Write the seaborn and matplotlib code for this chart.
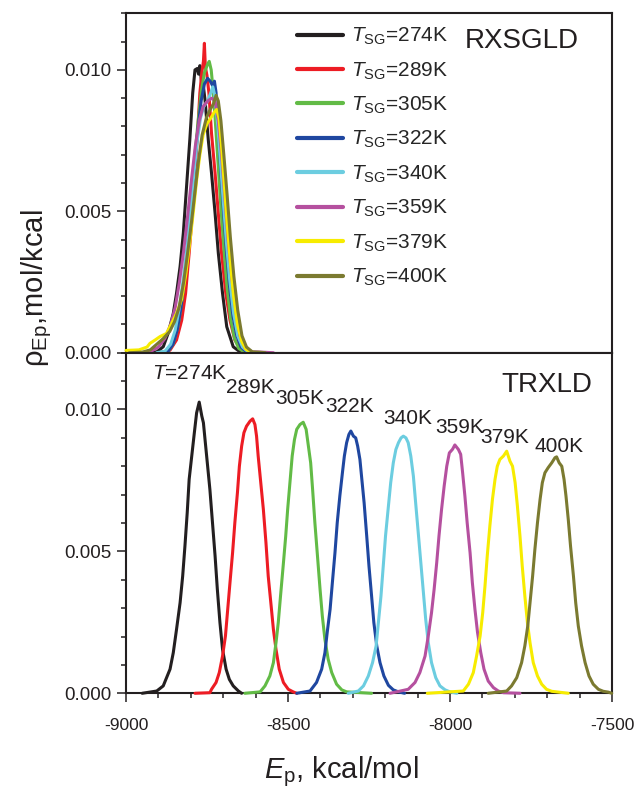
import matplotlib
matplotlib.use("Agg")
import matplotlib.pyplot as plt
import numpy as np
import pandas as pd
import seaborn as sns
from matplotlib import font_manager
from matplotlib.ticker import MultipleLocator, FormatStrFormatter
from matplotlib.lines import Line2D

# ---------------- data ----------------
temps = [274, 289, 305, 322, 340, 359, 379, 400]
colors = ["#231f20", "#ed1c24", "#62bb46", "#1f47a0", "#6ccde0", "#b5509f", "#f7ec00", "#7b7a30"]
x_ticks = [-9000, -8500, -8000, -7500]
y_ticks = [0.000, 0.005, 0.010]

# RXSGLD (top panel): E_p in kcal/mol, density in 1e-3 mol/kcal
rx_274_E = [-8950, -8905, -8885, -8870, -8854, -8844, -8833, -8823, -8813, -8803, -8794, -8787, -8780, -8776, -8772, -8767, -8762, -8756, -8746, -8736, -8725, -8715, -8702, -8689, -8669, -8648]
rx_274_rho = [0, 0.03, 0.21, 0.68, 1.39, 2.10, 3.05, 4.23, 5.88, 7.53, 9.18, 10.0, 10.05, 9.85, 10.15, 9.6, 9.5, 8.94, 7.53, 6.35, 4.93, 3.52, 2.10, 0.92, 0.21, 0.03]
rx_289_E = [-8880, -8864, -8844, -8828, -8816, -8805, -8795, -8787, -8779, -8772, -8766, -8761, -8758, -8755, -8750, -8744, -8736, -8725, -8715, -8705, -8692, -8679, -8664, -8643, -8628]
rx_289_rho = [0, 0.09, 0.45, 1.15, 2.10, 3.52, 4.93, 6.35, 7.76, 9.18, 9.9, 10.3, 10.94, 10.1, 9.8, 9.18, 7.76, 6.35, 4.93, 3.52, 2.10, 1.15, 0.45, 0.09, 0]
rx_305_E = [-8900, -8870, -8855, -8840, -8828, -8815, -8805, -8797, -8788, -8778, -8768, -8758, -8748, -8743, -8737, -8732, -8725, -8717, -8708, -8698, -8688, -8677, -8665, -8652, -8635, -8620]
rx_305_rho = [0, 0.05, 0.3, 0.9, 1.8, 3.0, 4.3, 5.5, 6.9, 8.1, 9.2, 9.9, 10.2, 10.3, 10.0, 9.4, 8.3, 6.9, 5.3, 3.7, 2.3, 1.2, 0.5, 0.15, 0.03, 0]
rx_322_E = [-8900, -8870, -8855, -8842, -8830, -8818, -8807, -8798, -8788, -8778, -8768, -8758, -8748, -8740, -8733, -8727, -8722, -8716, -8708, -8699, -8690, -8680, -8670, -8658, -8645, -8630, -8615]
rx_322_rho = [0, 0.05, 0.3, 0.8, 1.6, 2.8, 4.1, 5.3, 6.7, 7.9, 8.9, 9.5, 9.7, 9.6, 9.45, 9.6, 9.2, 8.0, 6.5, 5.0, 3.6, 2.3, 1.3, 0.6, 0.2, 0.05, 0]
rx_340_E = [-8905, -8880, -8862, -8848, -8835, -8822, -8810, -8800, -8790, -8780, -8770, -8760, -8748, -8738, -8732, -8726, -8718, -8710, -8700, -8690, -8680, -8668, -8655, -8640, -8625, -8610]
rx_340_rho = [0, 0.05, 0.3, 0.8, 1.6, 2.7, 3.9, 5.1, 6.4, 7.5, 8.3, 8.7, 8.9, 9.2, 9.4, 9.1, 8.2, 7.0, 5.4, 3.9, 2.6, 1.4, 0.6, 0.2, 0.05, 0]
rx_359_E = [-8930, -8900, -8880, -8862, -8848, -8835, -8822, -8810, -8798, -8786, -8774, -8762, -8748, -8735, -8725, -8715, -8705, -8695, -8685, -8673, -8660, -8648, -8632, -8610, -8580, -8545]
rx_359_rho = [0, 0.2, 0.5, 1.0, 1.6, 2.5, 3.6, 4.8, 6.1, 7.3, 8.2, 8.7, 8.9, 9.0, 8.9, 8.2, 7.0, 5.5, 4.0, 2.6, 1.4, 0.6, 0.15, 0.03, 0.02, 0]
rx_379_E = [-9000, -8960, -8935, -8926, -8910, -8895, -8875, -8859, -8844, -8828, -8815, -8803, -8792, -8782, -8772, -8762, -8750, -8738, -8728, -8720, -8713, -8705, -8697, -8688, -8678, -8668, -8656, -8643, -8630, -8615, -8600]
rx_379_rho = [0.08, 0.1, 0.2, 0.33, 0.45, 0.57, 0.68, 1.04, 1.39, 1.9, 2.8, 3.9, 5.0, 6.1, 7.0, 7.7, 8.1, 8.3, 8.5, 8.6, 8.3, 7.3, 6.0, 4.6, 3.2, 2.0, 1.0, 0.4, 0.12, 0.03, 0]
rx_400_E = [-8990, -8950, -8925, -8905, -8885, -8865, -8850, -8836, -8822, -8810, -8798, -8787, -8776, -8765, -8752, -8740, -8730, -8722, -8715, -8707, -8698, -8688, -8678, -8667, -8655, -8642, -8628, -8610, -8590, -8570]
rx_400_rho = [0, 0.02, 0.1, 0.3, 0.5, 0.75, 1.1, 1.6, 2.5, 3.5, 4.6, 5.7, 6.8, 7.7, 8.3, 8.6, 8.8, 9.1, 8.9, 8.2, 7.0, 5.6, 4.1, 2.7, 1.5, 0.6, 0.2, 0.03, 0.02, 0]

# TRXLD (bottom panel)
tr_274_E = [-8950, -8905, -8885, -8864, -8854, -8844, -8833, -8825, -8818, -8811, -8805, -8797, -8789, -8782, -8774, -8766, -8761, -8756, -8749, -8741, -8733, -8725, -8718, -8710, -8702, -8691, -8681, -8669, -8653, -8643]
tr_274_rho = [0, 0.08, 0.26, 0.85, 1.43, 2.25, 3.19, 4.13, 5.19, 6.36, 7.54, 8.36, 9.18, 9.88, 10.26, 9.77, 9.53, 8.94, 8.12, 7.18, 6.01, 4.84, 3.66, 2.49, 1.55, 0.85, 0.49, 0.26, 0.08, 0.0]
tr_289_E = [-8787, -8741, -8736, -8722, -8712, -8702, -8693, -8686, -8679, -8671, -8664, -8656, -8650, -8643, -8636, -8628, -8617, -8609, -8602, -8597, -8592, -8584, -8576, -8568, -8561, -8552, -8545, -8537, -8527, -8514, -8499, -8484, -8473]
tr_289_rho = [0, 0.02, 0.14, 0.38, 0.73, 1.31, 2.02, 2.96, 3.90, 4.95, 6.01, 7.07, 8.00, 8.71, 9.18, 9.41, 9.59, 9.67, 9.47, 9.06, 8.36, 7.42, 6.48, 5.31, 4.13, 3.08, 2.25, 1.55, 0.85, 0.38, 0.14, 0.05, 0.0]
tr_305_E = [-8633, -8586, -8571, -8556, -8545, -8537, -8530, -8523, -8514, -8507, -8501, -8494, -8487, -8480, -8473, -8463, -8453, -8444, -8437, -8430, -8424, -8417, -8409, -8401, -8394, -8386, -8376, -8365, -8350, -8334, -8319, -8242]
tr_305_rho = [0, 0.05, 0.26, 0.61, 1.08, 1.78, 2.49, 3.43, 4.60, 5.54, 6.48, 7.42, 8.36, 8.94, 9.30, 9.47, 9.55, 9.30, 8.71, 8.12, 7.18, 6.01, 4.84, 3.66, 2.72, 1.90, 1.20, 0.73, 0.32, 0.12, 0.05, 0.0]
tr_322_E = [-8473, -8432, -8412, -8396, -8386, -8379, -8370, -8363, -8355, -8348, -8340, -8332, -8326, -8319, -8312, -8306, -8298, -8291, -8285, -8278, -8273, -8265, -8257, -8250, -8242, -8235, -8226, -8216, -8204, -8190, -8175, -8159, -8140]
tr_322_rho = [0, 0.08, 0.38, 0.85, 1.43, 2.14, 2.96, 3.90, 4.95, 6.01, 6.95, 7.77, 8.36, 8.83, 9.12, 9.24, 9.06, 9.00, 8.71, 8.24, 7.65, 6.71, 5.54, 4.48, 3.43, 2.49, 1.67, 1.08, 0.61, 0.28, 0.12, 0.05, 0]
tr_340_E = [-8314, -8283, -8267, -8252, -8239, -8228, -8221, -8213, -8206, -8199, -8190, -8183, -8175, -8167, -8159, -8151, -8144, -8136, -8129, -8121, -8113, -8106, -8098, -8090, -8082, -8075, -8067, -8057, -8044, -8031, -8015, -8000, -7979]
tr_340_rho = [0, 0.08, 0.26, 0.61, 1.08, 1.67, 2.49, 3.43, 4.48, 5.54, 6.60, 7.42, 8.12, 8.59, 8.83, 9.00, 9.06, 9.00, 8.83, 8.36, 7.65, 6.71, 5.66, 4.60, 3.54, 2.61, 1.78, 1.08, 0.55, 0.26, 0.12, 0.05, 0]
tr_359_E = [-8185, -8129, -8108, -8093, -8077, -8067, -8057, -8049, -8041, -8034, -8026, -8018, -8010, -8002, -7992, -7985, -7974, -7967, -7961, -7954, -7947, -7938, -7931, -7923, -7915, -7905, -7895, -7882, -7866, -7851, -7835, -7784]
tr_359_rho = [0, 0.14, 0.38, 0.73, 1.31, 2.02, 2.84, 3.66, 4.60, 5.54, 6.48, 7.30, 8.00, 8.47, 8.60, 8.75, 8.59, 8.42, 7.77, 6.95, 6.01, 4.95, 3.90, 2.96, 2.14, 1.43, 0.85, 0.43, 0.20, 0.08, 0.02, 0]
tr_379_E = [-8070, -7959, -7943, -7928, -7918, -7907, -7899, -7892, -7885, -7877, -7869, -7861, -7854, -7846, -7835, -7825, -7815, -7807, -7799, -7792, -7784, -7777, -7769, -7761, -7753, -7743, -7730, -7717, -7702, -7686, -7671, -7635]
tr_379_rho = [0, 0.08, 0.32, 0.73, 1.31, 2.02, 2.84, 3.78, 4.84, 5.89, 6.83, 7.54, 8.00, 8.24, 8.36, 8.53, 8.18, 8.00, 7.42, 6.60, 5.54, 4.48, 3.43, 2.49, 1.78, 1.08, 0.61, 0.32, 0.14, 0.07, 0.05, 0]
tr_400_E = [-7882, -7825, -7810, -7794, -7779, -7769, -7760, -7753, -7745, -7738, -7730, -7722, -7715, -7707, -7697, -7686, -7676, -7671, -7663, -7655, -7648, -7642, -7635, -7628, -7619, -7612, -7604, -7594, -7583, -7571, -7558, -7542, -7527, -7511, -7501]
tr_400_rho = [0, 0.08, 0.26, 0.55, 1.08, 1.67, 2.37, 3.19, 4.13, 5.07, 6.01, 6.83, 7.42, 7.77, 7.95, 8.12, 8.30, 8.33, 8.12, 8.00, 7.54, 6.95, 6.13, 5.19, 4.13, 3.19, 2.37, 1.67, 1.08, 0.61, 0.32, 0.14, 0.07, 0.04, 0]

# peak labels of the lower panel: text, anchor energy, anchor density
peak_labels = ["$T$=274K", "289K", "305K", "322K", "340K", "359K", "379K", "400K"]
peak_label_E = [-8803, -8617, -8464, -8311, -8131, -7971, -7830, -7663]
peak_label_rho = [0.01128, 0.01079, 0.01039, 0.01009, 0.00969, 0.00937, 0.00903, 0.00870]

# ---------------- build tables ----------------
rx_curves = [(rx_274_E, rx_274_rho), (rx_289_E, rx_289_rho), (rx_305_E, rx_305_rho), (rx_322_E, rx_322_rho),
             (rx_340_E, rx_340_rho), (rx_359_E, rx_359_rho), (rx_379_E, rx_379_rho), (rx_400_E, rx_400_rho)]
tr_curves = [(tr_274_E, tr_274_rho), (tr_289_E, tr_289_rho), (tr_305_E, tr_305_rho), (tr_322_E, tr_322_rho),
             (tr_340_E, tr_340_rho), (tr_359_E, tr_359_rho), (tr_379_E, tr_379_rho), (tr_400_E, tr_400_rho)]


def to_frame(curves):
    parts = []
    for t, (e, r) in zip(temps, curves):
        parts.append(pd.DataFrame({"E": e, "rho": np.asarray(r) * 1e-3, "T": t}))
    return pd.concat(parts, ignore_index=True)


df_rx = to_frame(rx_curves)
df_tr = to_frame(tr_curves)
palette = dict(zip(temps, colors))

# ---------------- style ----------------
sns.set_style("ticks")
names = {f.name for f in font_manager.fontManager.ttflist}
narrow = "Liberation Sans Narrow" if "Liberation Sans Narrow" in names else "Liberation Sans"
plt.rcParams["font.family"] = ["Liberation Sans", "DejaVu Sans"]
plt.rcParams["mathtext.fontset"] = "custom"
plt.rcParams["mathtext.rm"] = "Liberation Sans"
plt.rcParams["mathtext.it"] = "Liberation Sans:italic"
plt.rcParams["mathtext.bf"] = "Liberation Sans:bold"
plt.rcParams["axes.unicode_minus"] = False
plt.rcParams["axes.linewidth"] = 1.5
plt.rcParams["axes.edgecolor"] = "#231f20"

fig = plt.figure(figsize=(6.34, 7.88), dpi=100)
ax_top = fig.add_axes([0.1987, 0.5524, 0.7666, 0.4307])
ax_bot = fig.add_axes([0.1987, 0.1202, 0.7666, 0.4322])

for ax, df in ((ax_top, df_rx), (ax_bot, df_tr)):
    sns.lineplot(data=df, x="E", y="rho", hue="T", hue_order=temps, palette=palette,
                 estimator=None, sort=False, legend=False, linewidth=2.2, ax=ax,
                 clip_on=False, zorder=3)
    ax.set_xlim(-9000, -7500)
    ax.set_ylim(0, 0.012)
    ax.set_xticks(x_ticks)
    ax.set_yticks(y_ticks)
    ax.xaxis.set_minor_locator(MultipleLocator(100))
    ax.yaxis.set_minor_locator(MultipleLocator(0.001))
    ax.yaxis.set_major_formatter(FormatStrFormatter("%.3f"))
    ax.tick_params(which="major", direction="out", length=6.5, width=1.1,
                   colors="#231f20", pad=4)
    ax.tick_params(axis="y", labelsize=13.5)
    ax.tick_params(axis="x", labelsize=12.5)
    ax.tick_params(which="minor", direction="out", length=3.5, width=1.1, colors="#231f20")
    ax.tick_params(axis="x", which="both", top=False, bottom=True)
    ax.tick_params(axis="y", which="both", right=False, left=True)
    ax.set_xlabel("")
    ax.set_ylabel("")
    for s in ax.spines.values():
        s.set_visible(True)
        s.set_linewidth(1.5)

ax_top.tick_params(axis="x", labelbottom=False)
ax_bot.tick_params(axis="x", pad=11)

# legend for the top panel
handles = [Line2D([0], [0], color=c, lw=3) for c in colors]
labels = [r"$T_{\rm SG}$=%dK" % t for t in temps]
ax_top.legend(handles, labels, loc="upper left", bbox_to_anchor=(0.326, 1.0), frameon=False,
              fontsize=15, handlelength=2.2, handletextpad=0.4, labelspacing=0.63,
              borderaxespad=0.2)

ax_top.text(0.932, 0.918, "RXSGLD", transform=ax_top.transAxes, ha="right", va="center",
            fontsize=20, color="#231f20")
ax_bot.text(0.96, 0.905, "TRXLD", transform=ax_bot.transAxes, ha="right", va="center",
            fontsize=20, color="#231f20")

for lab, e, r in zip(peak_labels, peak_label_E, peak_label_rho):
    ax_bot.text(e, r, lab, ha="center", va="center", fontsize=15, family=[narrow, "DejaVu Sans"],
                color="#231f20")

fig.text(0.538, 0.0125, r"$E_{\rm p}$, kcal/mol", ha="center", va="baseline", fontsize=21,
         color="#231f20")
fig.text(0.058, 0.634, "ρ$_{\\rm Ep}$,mol/kcal", ha="center", va="center", rotation=90,
         fontsize=21, color="#231f20")

fig.savefig("out.png", dpi=100)
